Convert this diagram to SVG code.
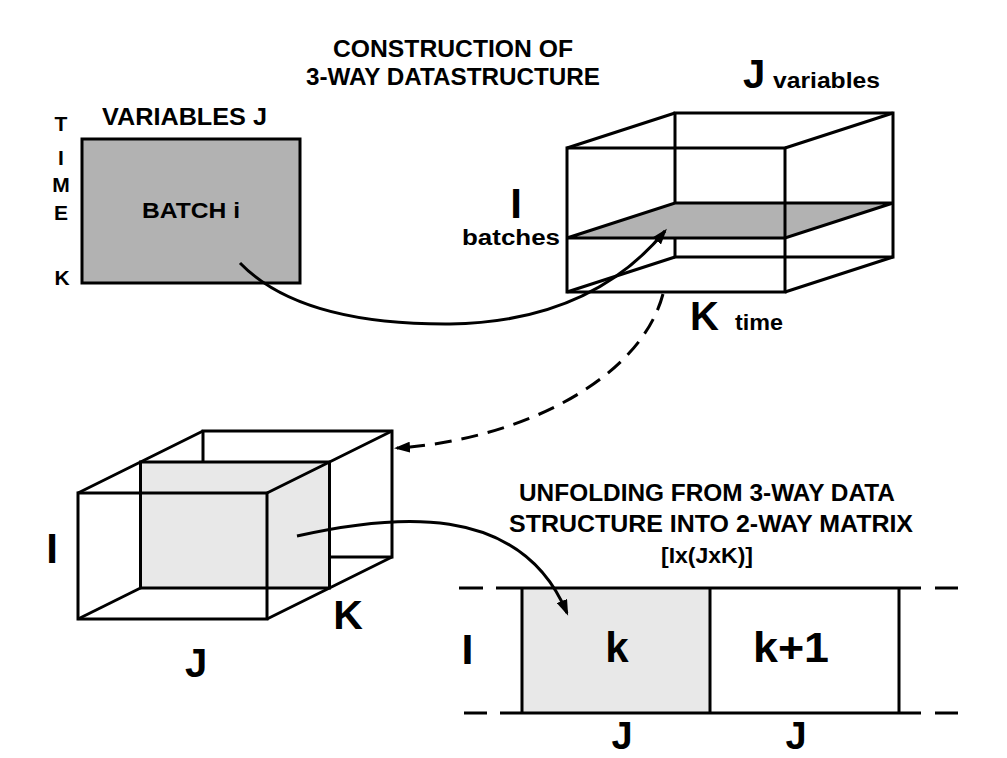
<svg xmlns="http://www.w3.org/2000/svg" width="1007" height="758" viewBox="0 0 1007 758">
<style>
.t{font-family:"Liberation Sans",Arial,sans-serif;font-weight:bold;fill:#000}
.ln{fill:none;stroke:#000;stroke-width:3;stroke-linejoin:miter}
.dark{fill:#b2b2b2;stroke:#000;stroke-width:3}
.light{fill:#e8e8e8;stroke:#000;stroke-width:3}
.con{fill:none;stroke:#000;stroke-width:3}
.dash{stroke-dasharray:17 10}
</style>
<defs>
<marker id="arr" viewBox="0 0 16 11" refX="13" refY="5.5" markerWidth="16" markerHeight="11" markerUnits="userSpaceOnUse" orient="auto">
<path d="M0,0 L16,5.5 L0,11 z" fill="#000"/>
</marker>
</defs>
<rect width="1007" height="758" fill="#fff"/>

<g id="title-construction">
<text class="t" x="453" y="57" font-size="23" text-anchor="middle" textLength="240" lengthAdjust="spacingAndGlyphs">CONSTRUCTION OF</text>
<text class="t" x="453" y="85" font-size="23" text-anchor="middle" textLength="294" lengthAdjust="spacingAndGlyphs">3-WAY DATASTRUCTURE</text>
</g>

<g id="batch-matrix">
<text class="t" x="102" y="125" font-size="23" textLength="165" lengthAdjust="spacingAndGlyphs">VARIABLES J</text>
<g font-size="21" text-anchor="middle">
<text class="t" x="61" y="131">T</text>
<text class="t" x="61" y="165">I</text>
<text class="t" x="61" y="192">M</text>
<text class="t" x="61" y="220">E</text>
<text class="t" x="62" y="285">K</text>
</g>
<rect class="dark" x="82" y="139" width="218" height="144"/>
<text class="t" x="142" y="218" font-size="22" textLength="98" lengthAdjust="spacingAndGlyphs">BATCH i</text>
</g>

<g id="cube-3way">
<path class="ln" d="M675,113 H893 V257 H675 Z"/>
<path class="ln" d="M567,148 L675,113 M785,148 L893,113 M567,292 L675,257 M785,292 L893,257"/>
<polygon class="dark" points="567,238 785,238 893,203 675,203"/>
<rect class="ln" x="567" y="148" width="218" height="144"/>
<text class="t" x="743" y="88" font-size="40">J</text>
<text class="t" x="773" y="88" font-size="22" textLength="107" lengthAdjust="spacingAndGlyphs">variables</text>
<text class="t" x="516" y="218" font-size="42" text-anchor="middle">I</text>
<text class="t" x="462" y="245" font-size="22" textLength="98" lengthAdjust="spacingAndGlyphs">batches</text>
<text class="t" x="690" y="330" font-size="40">K</text>
<text class="t" x="735" y="330" font-size="22" textLength="48" lengthAdjust="spacingAndGlyphs">time</text>
</g>

<g id="cube-slice">
<path class="ln" d="M203,431 H392 V557 H203 Z"/>
<path class="ln" d="M78,619 L203,557"/>
<rect class="light" x="140.5" y="462" width="189" height="126"/>
<path class="ln" d="M78,493 L203,431 M267,493 L392,431 M267,619 L392,557"/>
<rect class="ln" x="78" y="493" width="189" height="126"/>
<text class="t" x="52" y="563" font-size="42" text-anchor="middle">I</text>
<text class="t" x="348" y="629" font-size="41" text-anchor="middle">K</text>
<text class="t" x="196" y="677" font-size="40" text-anchor="middle">J</text>
</g>

<g id="title-unfolding">
<text class="t" x="519" y="501" font-size="23" textLength="376" lengthAdjust="spacingAndGlyphs">UNFOLDING FROM 3-WAY DATA</text>
<text class="t" x="509" y="532" font-size="23" textLength="404" lengthAdjust="spacingAndGlyphs">STRUCTURE INTO 2-WAY MATRIX</text>
<text class="t" x="661" y="563" font-size="22" textLength="92" lengthAdjust="spacingAndGlyphs">[Ix(JxK)]</text>
</g>

<g id="matrix-2way">
<rect x="522" y="588" width="188" height="125" fill="#e8e8e8"/>
<path class="ln" d="M459,588 H483 M496,588 H921 M935,588 H958"/>
<path class="ln" d="M464,713 H487 M500,713 H921 M935,713 H958"/>
<path class="ln" d="M522,588 V713 M710,588 V713 M899,588 V713"/>
<text class="t" x="467.5" y="664" font-size="43" text-anchor="middle">I</text>
<text class="t" x="617" y="662" font-size="42" text-anchor="middle">k</text>
<text class="t" x="791" y="662" font-size="42" text-anchor="middle" textLength="76" lengthAdjust="spacingAndGlyphs">k+1</text>
<text class="t" x="622" y="749" font-size="38" text-anchor="middle">J</text>
<text class="t" x="796" y="749" font-size="38" text-anchor="middle">J</text>
</g>

<g id="connectors">
<path class="con" d="M240,263 Q300,325 450,324 Q590,322 665,231" marker-end="url(#arr)"/>
<path class="con dash" d="M663,294 C640,380 520,440 397,448" marker-end="url(#arr)"/>
<path class="con" d="M297,536 C390,515 520,500 567,613" marker-end="url(#arr)"/>
</g>
</svg>
